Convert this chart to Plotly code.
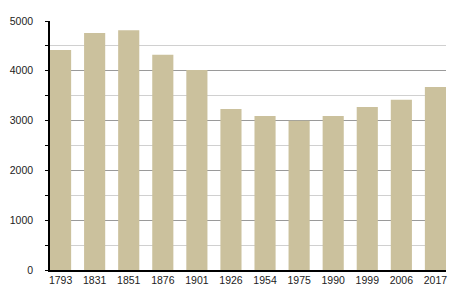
import plotly.graph_objects as go

years = ["1793", "1831", "1851", "1876", "1901", "1926", "1954", "1975", "1990", "1999", "2006", "2017"]
population = [4420, 4760, 4815, 4320, 4015, 3235, 3090, 2995, 3090, 3275, 3420, 3675]

bar_w = 0.62
fig = go.Figure(go.Bar(
    x=years, y=population, width=bar_w,
    marker=dict(color="#CBC19D", line=dict(width=0)),
))

fig.update_layout(
    width=455, height=300,
    margin=dict(l=50, r=9, t=21, b=30),
    paper_bgcolor="white", plot_bgcolor="white",
    font=dict(family="Liberation Sans, Arial, sans-serif", size=10.5, color="#222"),
    showlegend=False,
    xaxis=dict(
        type="category", range=[-bar_w / 2, len(years) - 1 + bar_w / 2],
        showline=True, linecolor="black", linewidth=1.5,
        ticks="", showgrid=False, tickfont=dict(size=10.5, color="#222"),
    ),
    yaxis=dict(
        range=[0, 5000], dtick=1000, tick0=0,
        showline=True, linecolor="black", linewidth=1.5,
        ticks="outside", ticklen=3, tickcolor="black", tickwidth=1,
        ticklabelstandoff=10,
        showgrid=True, gridcolor="#9a9a9a", gridwidth=1,
        zeroline=False,
        minor=dict(dtick=500, tick0=0, ticks="outside", ticklen=3, tickcolor="black",
                   showgrid=True, gridcolor="#d0d0d0", gridwidth=1),
        tickfont=dict(size=10.5, color="#222"),
    ),
)

fig.write_html("out.html")
